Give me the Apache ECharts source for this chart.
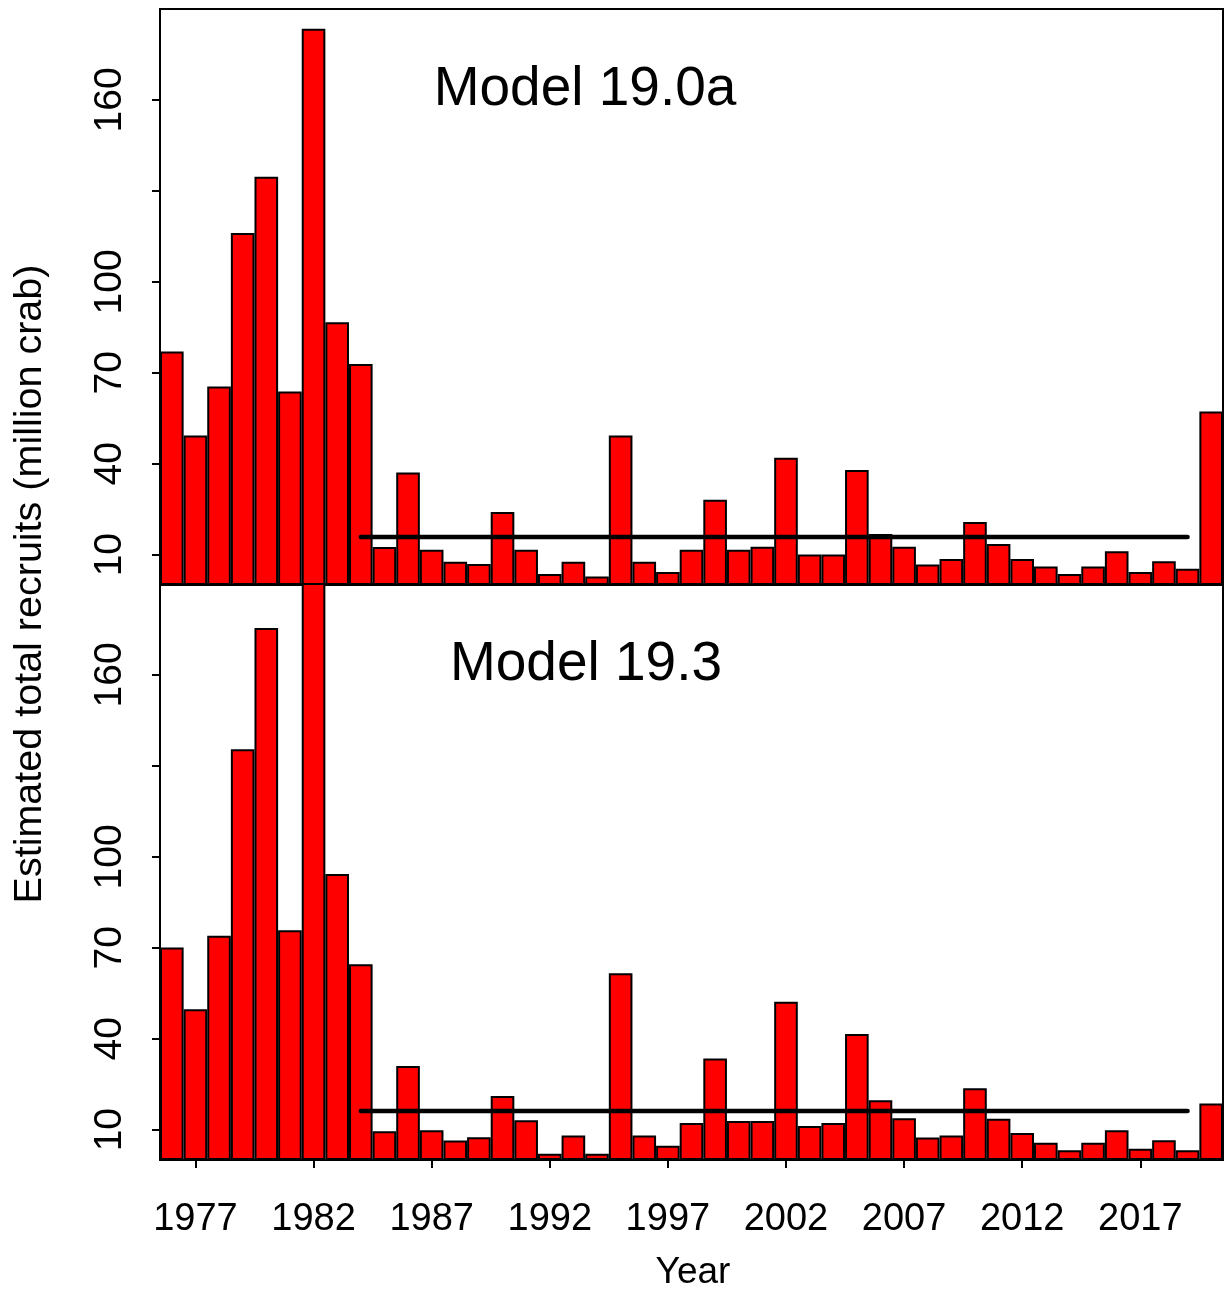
<!DOCTYPE html>
<html><head><meta charset="utf-8">
<script src="https://cdn.jsdelivr.net/npm/echarts@6/dist/echarts.min.js"></script>
<style>html,body{margin:0;padding:0;background:#fff}#c{width:1227px;height:1293px}</style>
</head><body><div id="c"></div>
<script>
const years = ['1976','1977','1978','1979','1980','1981','1982','1983','1984','1985','1986','1987','1988','1989','1990',
  '1991','1992','1993','1994','1995','1996','1997','1998','1999','2000','2001','2002','2003','2004','2005',
  '2006','2007','2008','2009','2010','2011','2012','2013','2014','2015','2016','2017','2018','2019','2020'];
const recruitsM190a = [77.0,49.3,65.5,116.1,134.7,63.8,183.5,86.7,72.9,12.5,37.1,11.6,7.7,6.9,24.1,
  11.6,3.6,7.7,2.8,49.3,7.7,4.3,11.6,28.1,11.6,12.6,42.0,10.1,10.1,37.9,
  16.8,12.6,6.8,8.6,20.8,13.5,8.6,6.1,3.6,6.1,11.1,4.3,7.8,5.4,57.2];
const recruitsM193 = [70.1,49.7,74.0,135.5,175.5,75.8,200.0,94.3,64.6,9.5,31.0,9.8,6.4,7.5,21.1,
  13.1,2.1,8.1,2.1,61.6,8.1,4.7,12.2,33.5,12.9,12.9,52.2,11.2,12.2,41.6,
  19.7,13.8,7.4,8.1,23.7,13.6,8.9,5.7,3.2,5.7,9.8,3.7,6.5,3.2,18.6];
const meanM190a = 15.8;
const meanM193 = 16.2;
const meanStartYear = '1984';
const meanEndYear = '2019';
const xTickYears = ['1977','1982','1987','1992','1997','2002','2007','2012','2017'];
const yTickValues = [10,40,70,100,130,160];
const yLabelValues = [10,40,70,100,160];
const panelTitles = ['Model 19.0a','Model 19.3'];
const yAxisTitle = 'Estimated total recruits (million crab)';
const xAxisTitle = 'Year';

const FONT = 'Liberation Sans, Arial, sans-serif';
const chart = echarts.init(document.getElementById('c'), null, {renderer:'canvas'});
const gridsPos = [{top:9,height:576},{top:584,height:576}];
const seriesVals = [recruitsM190a, recruitsM193];
const means = [meanM190a, meanM193];
const tickFn = (i, v) => xTickYears.indexOf(v) >= 0;

const option = {
  animation:false,
  backgroundColor:'#fff',
  grid: gridsPos.map(g => ({left:160, width:1063, top:g.top, height:g.height, show:true,
    borderColor:'#000', borderWidth:2, backgroundColor:'transparent', containLabel:false})),
  xAxis: [0,1].map(i => ({
    type:'category', gridIndex:i, data:years, boundaryGap:true,
    axisLine:{show:true, lineStyle:{color:'#000', width:2}},
    axisTick:{show:i===1, alignWithLabel:true, interval:tickFn, length:8, lineStyle:{color:'#000', width:2}},
    axisLabel:{show:i===1, interval:tickFn, fontSize:38, fontFamily:FONT, color:'#000', margin:41},
    splitLine:{show:false}
  })),
  yAxis: [0,1].map(i => ({
    type:'value', gridIndex:i, min:0, max:190,
    axisLine:{show:true, lineStyle:{color:'#000', width:2}},
    axisTick:{show:true, customValues:yTickValues, length:8, lineStyle:{color:'#000', width:2}},
    axisLabel:{show:true, customValues:yLabelValues, rotate:90, fontSize:39, fontFamily:FONT, color:'#000', margin:30},
    splitLine:{show:false}
  })),
  series: [].concat(...[0,1].map(i => ([
    {type:'bar', xAxisIndex:i, yAxisIndex:i, data:seriesVals[i], barCategoryGap:'0%', clip:true,
     itemStyle:{color:'#FF0000', borderColor:'#000', borderWidth:2}},
    {type:'line', xAxisIndex:i, yAxisIndex:i, z:5, symbol:'none',
     data: years.map(y => (y >= meanStartYear && y <= meanEndYear) ? means[i] : '-'),
     lineStyle:{color:'#000', width:4.5, cap:'round'}}
  ]))),
  graphic: [
    {type:'text', x:585, y:90, style:{text:panelTitles[0], font:'55px ' + FONT, fill:'#000', textAlign:'center', textVerticalAlign:'middle'}},
    {type:'text', x:586, y:665, style:{text:panelTitles[1], font:'55px ' + FONT, fill:'#000', textAlign:'center', textVerticalAlign:'middle'}},
    {type:'text', x:30, y:584, rotation:Math.PI/2, style:{text:yAxisTitle, font:'39.5px ' + FONT, fill:'#000', textAlign:'center', textVerticalAlign:'middle'}},
    {type:'text', x:693, y:1273, style:{text:xAxisTitle, font:'37px ' + FONT, fill:'#000', textAlign:'center', textVerticalAlign:'middle'}}
  ]
};
chart.setOption(option);
</script></body></html>
